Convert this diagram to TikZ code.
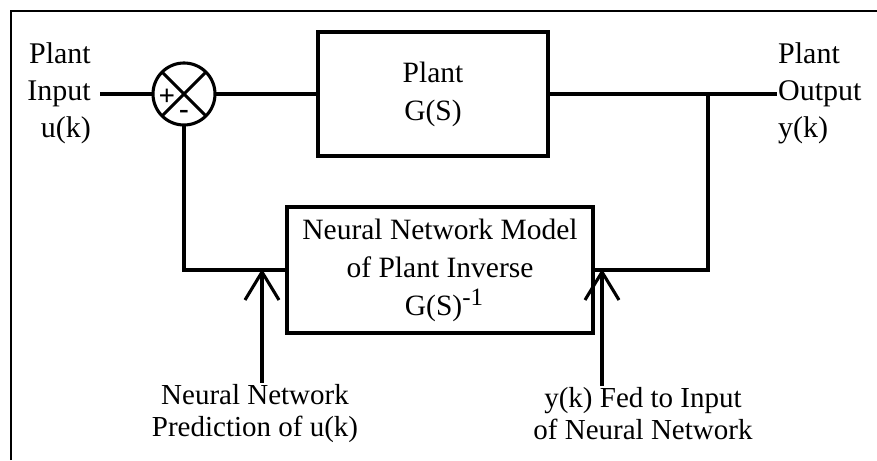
\documentclass[tikz,border=0pt]{standalone}
\usepackage{fontspec}
\setmainfont{Liberation Serif}
\usetikzlibrary{arrows.meta}
\begin{document}
\begin{tikzpicture}[x=1pt,y=-1pt,
  wire/.style={line width=3.1pt},
  blockbox/.style={draw,line width=3.1pt,inner sep=0pt,outer sep=0pt,align=center,
    font=\fontsize{29.5}{38}\selectfont},
  sidelbl/.style={inner sep=2pt,font=\fontsize{30}{37}\selectfont},
  footlbl/.style={inner sep=2pt,align=center,font=\fontsize{29}{32}\selectfont},
  signmark/.style={inner sep=0pt,font=\fontsize{29}{29}\selectfont\bfseries},
  probe/.style={line width=3.1pt,-{Straight Barb[length=28pt,width=34pt]}}
]
\useasboundingbox (0,0) rectangle (877,460);

% open frame: top and left rules
\draw[line width=2.6pt] (11,460) -- (11,11) -- (877,11);

% summing junction
\node[draw,circle,line width=3.1pt,minimum size=62pt,inner sep=0pt,outer sep=0pt] (sum) at (184,94) {};
\draw[wire] (sum.north west) -- (sum.south east);
\draw[wire] (sum.north east) -- (sum.south west);
\node[signmark] (plus) at (167,97) {+};
\node[signmark] (minus) at (184,114) {-};

% blocks
\node[blockbox,minimum width=230pt,minimum height=124pt] (plant) at (433,94) {Plant\\G(S)};
\node[blockbox,minimum width=306pt,minimum height=126pt] (nn) at (440,270)
  {Neural Network Model\\of Plant Inverse\\ \hspace*{8pt}G(S)\raisebox{10pt}{\fontsize{25}{25}\selectfont -1}};

% side labels
\node[sidelbl,align=right,anchor=east] (inlbl) at (93,93) {Plant\\Input\\u(k)};
\node[sidelbl,align=left,anchor=west] (outlbl) at (776,93) {Plant\\Output\\y(k)};

% bottom labels
\node[footlbl] (predlbl) at (255,414) {Neural Network\\Prediction of u(k)};
\node[footlbl] (fedlbl) at (643,414) {y(k) Fed to Input\\of Neural Network};

% signal points
\coordinate (uin) at (100,94);
\coordinate (yout) at (777,94);
\coordinate (tap) at (708,94);
\coordinate (p1) at (262,269);
\coordinate (p2) at (602,269);

% wiring
\draw[wire] (uin) -- (sum.west);
\draw[wire] (sum.east) -- (plant.west);
\draw[wire] (plant.east) -- (yout);
\draw[wire] (tap) |- (nn.east);
\draw[wire] (nn.west) -| (sum.south);

% pointer arrows
\draw[probe] (p1 |- predlbl.north) -- (p1);
\draw[probe] (p2 |- fedlbl.north) -- (p2);
\end{tikzpicture}
\end{document}
